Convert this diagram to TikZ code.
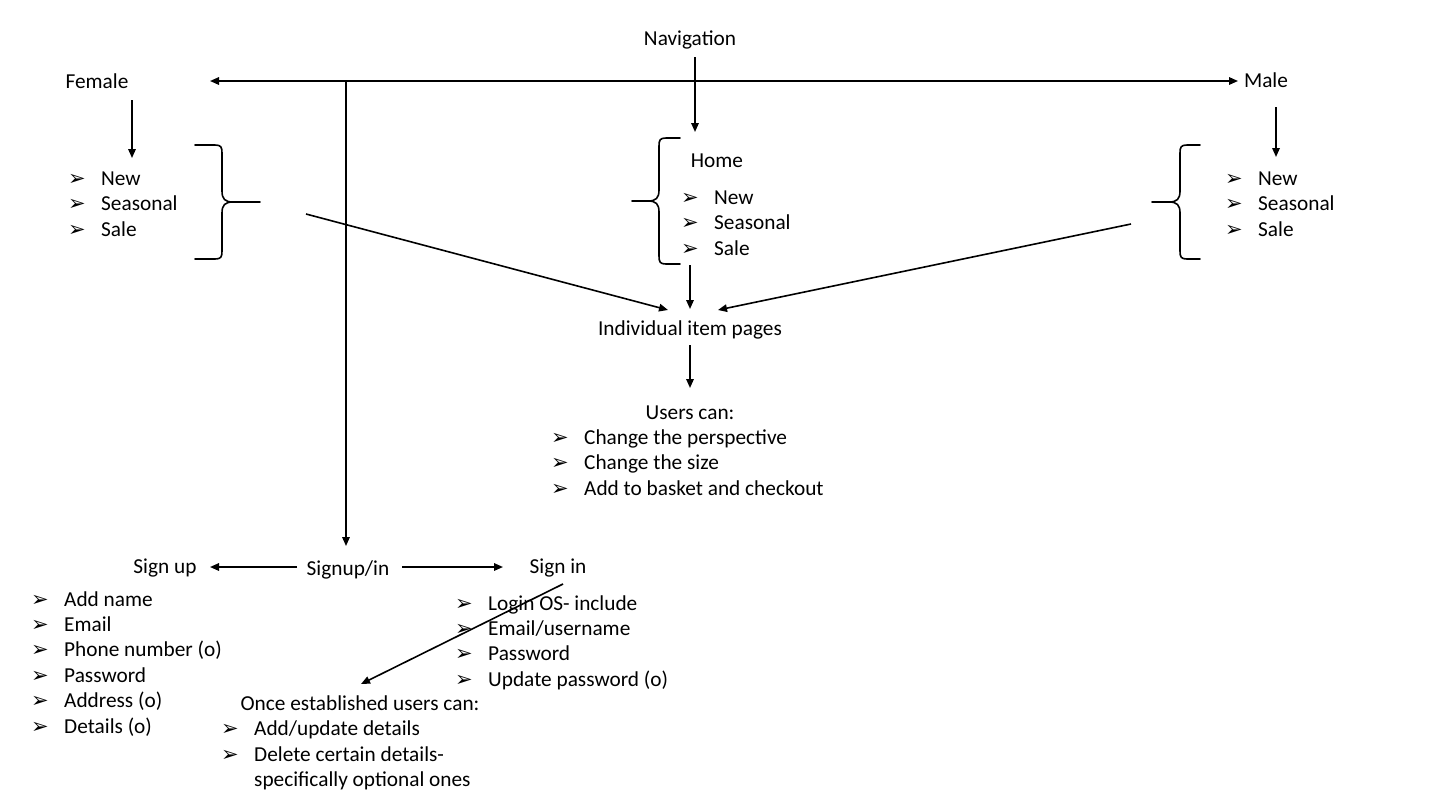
\documentclass[tikz,border=0pt]{standalone}
\usepackage{fontspec}
\setmainfont{Carlito}
\newfontfamily\bulletfont{DejaVu Sans}
\usetikzlibrary{arrows.meta}

% arrowhead bullet followed by a fixed indent
\newcommand\bul{\makebox[33pt][l]{\bulletfont\fontsize{21}{21}\selectfont ➢}}

% curly brace: #1 x of the spine, #2 y of the point, #3 half height,
% #4 length of the end hooks, #5 length of the point, #6 = 1 for {, -1 for }
\newcommand\curlybrace[6]{%
  \begin{scope}[shift={(#1,#2)},xscale=#6]
    \draw[brace] (#4,-#3) -- (7,-#3) .. controls (1,-#3) and (0,{-#3+2}) .. (0,{-#3+8})
      -- (0,-11) .. controls (0,-3) and (-3,0) .. (-11,0) -- (-#5,0)
      (-11,0) .. controls (-3,0) and (0,3) .. (0,11)
      -- (0,{#3-8}) .. controls (0,{#3-2}) and (1,#3) .. (7,#3) -- (#4,#3);
  \end{scope}}

\begin{document}
\begin{tikzpicture}[x=1pt,y=-1pt,
  every node/.style={font=\fontsize{21.3}{25}\selectfont, inner sep=0pt},
  lbl/.style={anchor=base},
  item/.style={anchor=base west},
  conn/.style={line width=1.6pt, -{Triangle[length=9pt,width=7.5pt]}},
  twoway/.style={line width=1.6pt, {Triangle[length=9pt,width=7.5pt]}-{Triangle[length=9pt,width=7.5pt]}},
  brace/.style={line width=1.6pt, line cap=round}]
\useasboundingbox (0,0) rectangle (1434,801);

% headings
\node[lbl] (nav)      at (690,45)  {Navigation};
\node[lbl] (female)   at (97,88)   {Female};
\node[lbl] (male)     at (1266,87) {Male};
\node[lbl] (home)     at (717,167) {Home};
\node[lbl] (items)    at (690,335) {Individual item pages};
\node[lbl] (users)    at (690,419) {Users can:};
\node[lbl] (signupin) at (348,575) {Signup/in};
\node[lbl] (signup)   at (165,573) {Sign up};
\node[lbl] (signin)   at (558,573) {Sign in};
\node[lbl] (once)     at (360,710) {Once established users can:};

% bullet lists
\foreach \t [count=\i] in {{New},{Seasonal},{Sale}}
  \node[item] (fem-\i) at (68,{185+25.5*(\i-1)}) {\bul\t};
\foreach \t [count=\i] in {{New},{Seasonal},{Sale}}
  \node[item] (hom-\i) at (681,{204+25.5*(\i-1)}) {\bul\t};
\foreach \t [count=\i] in {{New},{Seasonal},{Sale}}
  \node[item] (mal-\i) at (1225,{185+25.5*(\i-1)}) {\bul\t};
\foreach \t [count=\i] in {{Change the perspective},{Change the size},{Add to basket and checkout}}
  \node[item] (usr-\i) at (551,{444+25.5*(\i-1)}) {\bul\t};
\foreach \t [count=\i] in {{Add name},{Email},{Phone number (o)},{Password},{Address (o)},{Details (o)}}
  \node[item] (sup-\i) at (31,{606+25.4*(\i-1)}) {\bul\t};
\foreach \t [count=\i] in {{Login OS- include},{Email/username},{Password},{Update password (o)}}
  \node[item] (sin-\i) at (455,{610+25.4*(\i-1)}) {\bul\t};
\node[item] (est-1) at (221,735) {\bul Add/update details};
\node[item] (est-2) at (221,761) {\bul Delete certain details-};
\node[item] (est-3) at (221,786) {\hspace*{33pt}specifically optional ones};

% braces
\curlybrace{222}{202}{57}{27}{38}{-1}
\curlybrace{659}{201}{63}{21}{27}{1}
\curlybrace{1180}{202}{57}{20}{28}{1}

% connector end points
\coordinate (navfoot)  at (695,57);
\coordinate (homehead) at (695,132);
\coordinate (barL)     at (210,81);
\coordinate (barR)     at (1238,81);
\coordinate (barJ)     at (346,81);
\coordinate (supinhd)  at (346,546);
\coordinate (femfoot)  at (132,100);
\coordinate (femlist)  at (132,158);
\coordinate (malfoot)  at (1276,107);
\coordinate (mallist)  at (1276,157);
\coordinate (fbrace)   at (306,214);
\coordinate (mbrace)   at (1131,224);
\coordinate (itemsL)   at (668,310);
\coordinate (itemsR)   at (718,310);
\coordinate (homefoot) at (690,265);
\coordinate (itemshd)  at (690,309);
\coordinate (itemsft)  at (690,345);
\coordinate (usershd)  at (690,388);
\coordinate (supinL)   at (297,567);
\coordinate (supL)     at (210,567);
\coordinate (supinR)   at (402,567);
\coordinate (sinL)     at (503,567);
\coordinate (sinfoot)  at (563,584);
\coordinate (oncehd)   at (361,684);

% connectors
\draw[conn]   (navfoot) -- (homehead);
\draw[twoway] (barL) -- (barR);
\draw[conn]   (barJ) -- (supinhd);
\draw[conn]   (femfoot) -- (femlist);
\draw[conn]   (malfoot) -- (mallist);
\draw[conn]   (fbrace) -- (itemsL);
\draw[conn]   (mbrace) -- (itemsR);
\draw[conn]   (homefoot) -- (itemshd);
\draw[conn]   (itemsft) -- (usershd);
\draw[conn]   (supinL) -- (supL);
\draw[conn]   (supinR) -- (sinL);
\draw[conn]   (sinfoot) -- (oncehd);
\end{tikzpicture}
\end{document}
